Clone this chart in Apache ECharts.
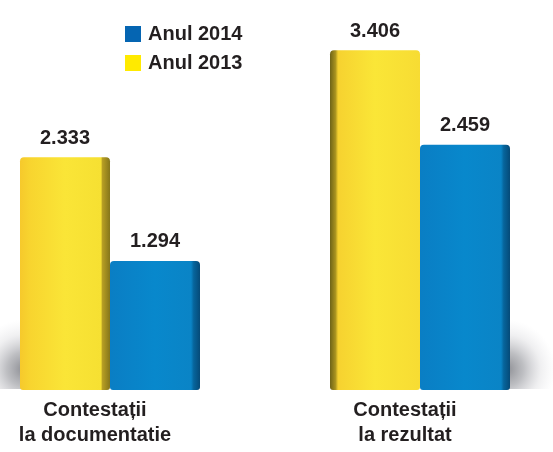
<!DOCTYPE html>
<html>
<head>
<meta charset="utf-8">
<script src="https://cdn.jsdelivr.net/npm/echarts@6/dist/echarts.min.js"></script>
<style>
  html, body { margin: 0; padding: 0; background: #ffffff; }
  #chart { width: 553px; height: 452px; }
</style>
</head>
<body>
<div id="chart"></div>
<script>
// Appeals filed, by type, 2013 vs 2014
const categories = ['Contestații\nla documentatie', 'Contestații\nla rezultat'];
const values2013 = [2.333, 3.406];
const values2014 = [1.294, 2.459];
const seriesNames = ['Anul 2013', 'Anul 2014'];

const FONT = '"Liberation Sans", Arial, Helvetica, sans-serif';
const TEXT = '#231f20';
const BAR_W = 90;

function grad(stops) {
  return new echarts.graphic.LinearGradient(0, 0, 1, 0,
    stops.map(s => ({ offset: s[0], color: s[1] })));
}
// yellow face with a dark side edge on the right or on the left
const yellowRightEdge = grad([[0, '#f6c92c'], [0.12, '#f8d52f'], [0.5, '#fae537'], [0.9, '#f6e032'], [0.915, '#b89f24'], [1, '#86761a']]);
const yellowLeftEdge = grad([[0, '#6f6418'], [0.06, '#a8921f'], [0.09, '#f6d230'], [0.5, '#fae637'], [1, '#f7dc33']]);
const blueFace = grad([[0, '#0a7ec4'], [0.5, '#0888cc'], [0.9, '#0a84c6'], [0.93, '#07659c'], [1, '#054a78']]);

const yellowEdges = [yellowRightEdge, yellowLeftEdge];
// which side of each group the floor shadow falls on
const shadowSide = ['left', 'right'];

const option = {
  backgroundColor: '#ffffff',
  animation: false,
  grid: { left: 110, right: 133, top: 1, bottom: 62 },
  legend: {
    data: ['Anul 2014', 'Anul 2013'],
    orient: 'vertical',
    left: 120, top: 19,
    icon: 'rect',
    itemWidth: 16, itemHeight: 16, itemGap: 9,
    textStyle: { fontFamily: FONT, fontSize: 20, fontWeight: 'bold', color: TEXT, padding: [0, 0, 0, 2] }
  },
  xAxis: {
    type: 'category',
    data: categories,
    boundaryGap: false,
    axisLine: { show: false },
    axisTick: { show: false },
    axisLabel: {
      margin: 8,
      fontFamily: FONT, fontSize: 20, fontWeight: 'bold', color: TEXT,
      lineHeight: 25,
      padding: [0, 30, 0, 0]
    }
  },
  yAxis: {
    type: 'value', min: 0, max: 3.9,
    show: false,
    splitLine: { show: false }
  },
  series: [
    {
      // soft floor shadow beside each group, fading upward and outward
      type: 'custom',
      silent: true,
      clip: false,
      z: 1,
      data: shadowSide.map((s, i) => [i, 0]),
      renderItem: function (params, api) {
        const p = api.coord([api.value(0), 0]);
        const side = shadowSide[params.dataIndex];
        const w = 90, h = 100;
        const x = side === 'left' ? p[0] - BAR_W - w + 4 : p[0] + BAR_W - 4;
        return {
          type: 'rect',
          shape: { x: x, y: p[1] - h, width: w, height: h - 1 },
          style: {
            fill: new echarts.graphic.RadialGradient(side === 'left' ? 1 : 0, 0.8, 0.55, [
              { offset: 0, color: 'rgba(90,92,100,0.7)' },
              { offset: 0.35, color: 'rgba(110,112,120,0.45)' },
              { offset: 0.7, color: 'rgba(150,150,160,0.15)' },
              { offset: 1, color: 'rgba(180,180,190,0)' }
            ])
          }
        };
      }
    },
    {
      name: seriesNames[0],
      type: 'bar',
      z: 3,
      clip: false,
      barWidth: BAR_W,
      barGap: '0%',
      itemStyle: { color: '#ffea00' },
      data: values2013.map((v, i) => ({
        value: v,
        itemStyle: { color: yellowEdges[i], borderRadius: [4, 4, 3, 3] }
      })),
      label: {
        show: true, position: 'top', distance: 9,
        fontFamily: FONT, fontSize: 20, fontWeight: 'bold', color: TEXT,
        formatter: p => p.value.toFixed(3)
      }
    },
    {
      name: seriesNames[1],
      type: 'bar',
      z: 3,
      clip: false,
      barWidth: BAR_W,
      itemStyle: { color: '#0565b2' },
      data: values2014.map(v => ({
        value: v,
        itemStyle: { color: blueFace, borderRadius: [4, 4, 3, 3] }
      })),
      label: {
        show: true, position: 'top', distance: 9,
        fontFamily: FONT, fontSize: 20, fontWeight: 'bold', color: TEXT,
        formatter: p => p.value.toFixed(3)
      }
    }
  ]
};

const chart = echarts.init(document.getElementById('chart'), null, { renderer: 'canvas' });
chart.setOption(option);
</script>
</body>
</html>
